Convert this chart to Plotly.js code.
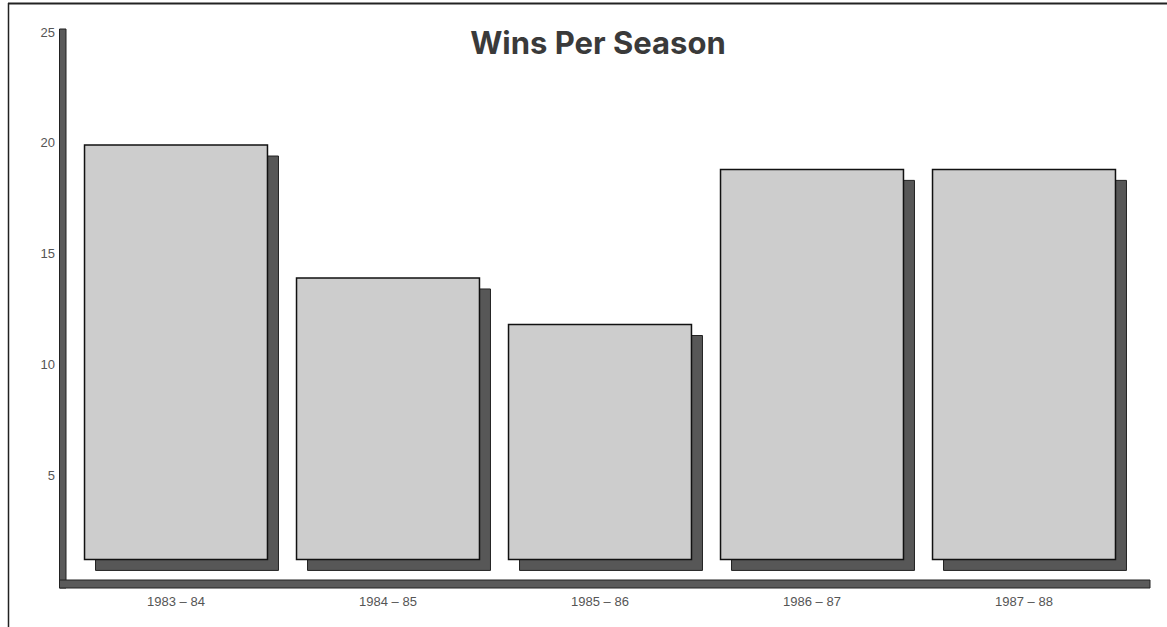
<!DOCTYPE html>
<html>
<head>
<meta charset="utf-8">
<script src="https://cdn.plot.ly/plotly-3.0.1.min.js"></script>
<style>html,body{margin:0;padding:0;background:#fff;}#chart{width:1167px;height:627px;}</style>
</head>
<body>
<div id="chart"></div>
<script>
// Data
const seasons = ["1983 – 84", "1984 – 85", "1985 – 86", "1986 – 87", "1987 – 88"];
const wins = [19.9, 13.9, 11.8, 18.8, 18.8];
const yTickVals = [5, 10, 15, 20, 25];
const yTickText = ["5", "10", "15", "20", "25"];
const chartTitle = "Wins Per Season";

// Styling / layout constants
const W = 1167, H = 627;
const M = {l: 70, r: 26, t: 32, b: 30};
const PW = W - M.l - M.r, PH = H - M.t - M.b;
const SH = 11; // shadow offset in px
const BASE = 1.2;
const px = v => (v - M.l) / PW;
const py = v => (H - M.b - v) / PH;

const heights = wins.map(v => v - BASE);

const shadow = {
  type: 'bar', x: seasons, y: heights, base: BASE,
  xaxis: 'x', yaxis: 'y', width: 0.863,
  marker: {color: '#575757', line: {color: '#222', width: 1}},
  hoverinfo: 'skip', showlegend: false
};
const front = {
  type: 'bar', x: seasons, y: heights, base: BASE,
  xaxis: 'x2', yaxis: 'y2', width: 0.863,
  marker: {color: '#cdcdcd', line: {color: '#111', width: 1.5}},
  showlegend: false
};

const tickFont = {family: 'Liberation Sans, Arial, sans-serif', size: 13, color: '#555'};

const layout = {
  width: W, height: H,
  margin: M,
  paper_bgcolor: '#fff', plot_bgcolor: 'rgba(0,0,0,0)',
  showlegend: false,
  title: {
    text: '<b>' + chartTitle + '</b>',
    font: {family: 'Inter, DejaVu Sans, sans-serif', size: 31, color: '#3a3a3a'},
    xref: 'container', x: 598 / W, xanchor: 'center',
    yref: 'container', y: 1 - 43 / H, yanchor: 'middle'
  },
  xaxis: {domain: [SH / PW, 1], range: [-0.5, 4.5], type: 'category', visible: false, fixedrange: true},
  yaxis: {domain: [0, 1 - SH / PH], range: [0, 25], visible: false, fixedrange: true},
  xaxis2: {
    domain: [0, 1 - SH / PW], range: [-0.5, 4.5], type: 'category', anchor: 'y2',
    showgrid: false, zeroline: false, showline: false, ticks: '',
    tickfont: tickFont, ticklabelstandoff: 6
  },
  yaxis2: {
    domain: [SH / PH, 1], range: [0, 25], anchor: 'x2',
    showgrid: false, zeroline: false, showline: false, ticks: '',
    tickmode: 'array', tickvals: yTickVals, ticktext: yTickText,
    tickfont: tickFont, ticklabelstandoff: 14
  },
  shapes: [
    // frame lines (top and left)
    {type: 'line', xref: 'paper', yref: 'paper', x0: px(8), x1: px(1167), y0: py(3.5), y1: py(3.5), line: {color: '#222', width: 2}},
    {type: 'line', xref: 'paper', yref: 'paper', x0: px(8.5), x1: px(8.5), y0: py(3), y1: py(627), line: {color: '#222', width: 1.5}},
    // thick axis bars
    {type: 'rect', xref: 'paper', yref: 'paper', x0: px(59.5), x1: px(66), y0: py(29), y1: py(588), fillcolor: '#5a5a5a', line: {color: '#222', width: 1}},
    {type: 'rect', xref: 'paper', yref: 'paper', x0: px(59.5), x1: px(1150), y0: py(580), y1: py(588), fillcolor: '#5a5a5a', line: {color: '#222', width: 1}}
  ]
};

Plotly.newPlot('chart', [shadow, front], layout, {displayModeBar: false, staticPlot: true});
</script>
</body>
</html>
